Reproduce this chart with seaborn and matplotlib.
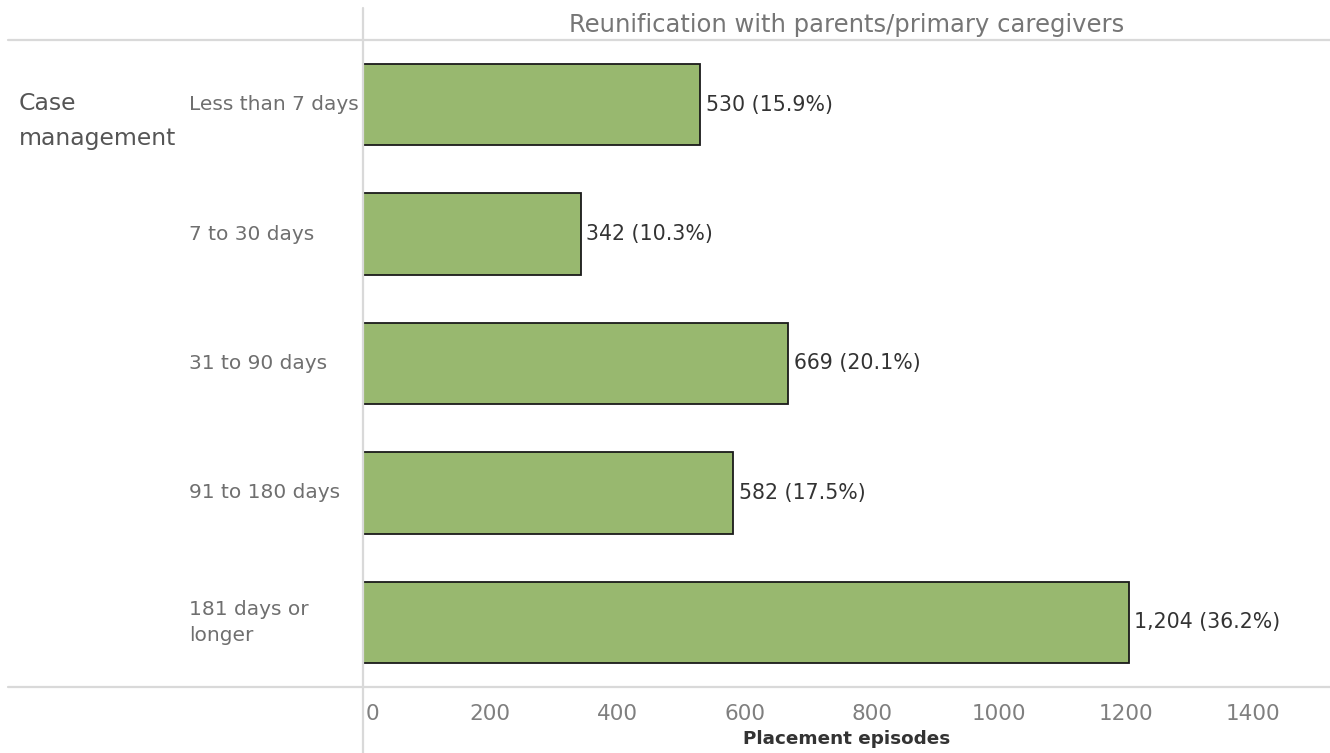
import matplotlib
matplotlib.use("Agg")
import matplotlib.pyplot as plt
from matplotlib.lines import Line2D
from matplotlib.transforms import blended_transform_factory, offset_copy
import seaborn as sns
import pandas as pd

# Placement episode counts by time to reunification
categories = ["Less than 7 days", "7 to 30 days", "31 to 90 days",
              "91 to 180 days", "181 days or\nlonger"]
episodes = [530, 342, 669, 582, 1204]
percent = [15.9, 10.3, 20.1, 17.5, 36.2]
x_ticks = [0, 200, 400, 600, 800, 1000, 1200, 1400]

title = "Reunification with parents/primary caregivers"
row_header = "Case\nmanagement"
x_label = "Placement episodes"

sns.set_theme(style="white")
plt.rcParams["font.family"] = ["DejaVu Sans"]

W, H = 1330, 753
fig = plt.figure(figsize=(W / 100, H / 100), dpi=100)

# Plot area in pixel coordinates
left_px, right_px, top_px, bottom_px = 363, 1330, 40, 687
ax = fig.add_axes([left_px / W, 1 - bottom_px / H,
                   (right_px - left_px) / W, (bottom_px - top_px) / H])

df = pd.DataFrame({"category": categories, "episodes": episodes})
sns.barplot(data=df, x="episodes", y="category", orient="h", ax=ax,
            color="#98b86f", saturation=1, width=0.63,
            edgecolor="#1a1a1a", linewidth=1.3)

px_per_unit = 0.636
ax.set_xlim(0, (right_px - left_px) / px_per_unit)
ax.set_ylim(len(categories) - 0.5, -0.5)

for s in ax.spines.values():
    s.set_visible(False)

ax.set_ylabel("")
ax.set_yticks([])
ax.set_xlabel("")
ax.set_xticks(x_ticks)
ax.set_xticklabels([str(t) for t in x_ticks])
ax.tick_params(axis="x", colors="#dcdcdc", length=5, width=1, pad=7,
               labelcolor="#7f7f7f", labelsize=15.5)
tl = ax.get_xticklabels()
tl[0].set_horizontalalignment("left")
tl[0].set_transform(offset_copy(tl[0].get_transform(), fig=fig, x=3, y=0, units="dots"))

# Value labels
for i, (v, p) in enumerate(zip(episodes, percent)):
    ax.annotate(f"{v:,} ({p}%)", xy=(v, i), xytext=(4, 0),
                textcoords="offset points", va="center", ha="left",
                fontsize=14.8, color="#333333")

# Category labels, left aligned in the header column
tr = blended_transform_factory(fig.transFigure, ax.transData)
for i, c in enumerate(categories):
    ax.text(189 / W, i, c, transform=tr, ha="left", va="center",
            fontsize=14.5, color="#6f6f6f", linespacing=1.45)

fig.text(19 / W, 1 - 121 / H, row_header, ha="left", va="center",
         fontsize=16.9, color="#555555", linespacing=1.62)

fig.text((left_px + right_px) / 2 / W, 1 - 25 / H, title, ha="center",
         va="center", fontsize=17.5, color="#767676")

fig.text((left_px + right_px) / 2 / W, 1 - 739 / H, x_label, ha="center",
         va="center", fontsize=13.2, color="#333333", fontweight="bold")

# Header rules
line_c = "#d9d9d9"
fig.add_artist(Line2D([8 / W, 1], [1 - top_px / H] * 2, color=line_c, lw=1.6,
                      transform=fig.transFigure))
fig.add_artist(Line2D([8 / W, 1], [1 - bottom_px / H] * 2, color=line_c, lw=1.6,
                      transform=fig.transFigure))
fig.add_artist(Line2D([left_px / W] * 2, [0, 1 - 8 / H], color=line_c, lw=1.6,
                      transform=fig.transFigure))

fig.savefig("out.png", dpi=100, facecolor="white")
